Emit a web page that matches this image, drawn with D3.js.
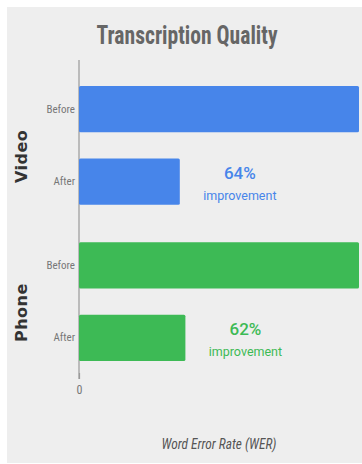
<!DOCTYPE html>
<html>
<head>
<meta charset="utf-8">
<script src="https://cdn.jsdelivr.net/npm/d3@7"></script>
<style>
  html, body { margin: 0; padding: 0; background: #fff; }
  svg { display: block; }
</style>
</head>
<body>
<div id="chart"></div>
<script>
// chart data
const groups = ["Video", "Phone"];
const stages = ["Before", "After"];
const werVideo = [100, 36];
const werPhone = [100, 38];
const improvements = ["64%", "62%"];
const xTicks = [0];

const colors = {Video: "#4785ea", Phone: "#3dba55"};

const width = 362, height = 464;
const margin = {top: 60, left: 79, right: 3, bottom: 85};

const values = {Video: werVideo, Phone: werPhone};

const svg = d3.select("#chart").append("svg")
  .attr("width", width)
  .attr("height", height)
  .attr("viewBox", [0, 0, width, height]);

// gray panel
svg.append("rect")
  .attr("x", 7).attr("y", 7)
  .attr("width", width - 7).attr("height", height - 8)
  .attr("fill", "#eeeeee");

const x = d3.scaleLinear([0, 100], [margin.left, width - margin.right]);
const yGroup = d3.scaleBand(groups, [86, 361]).paddingInner(0.24);
const yStage = d3.scaleBand(stages, [0, yGroup.bandwidth()]).paddingInner(0.36);

const narrow = "'Liberation Sans Narrow', 'Roboto Condensed', 'Arial Narrow', sans-serif";

// title
svg.append("text")
  .attr("x", 187).attr("y", 44)
  .attr("text-anchor", "middle")
  .attr("font-family", narrow)
  .attr("font-weight", "bold")
  .attr("font-size", 26)
  .attr("fill", "#666")
  .attr("textLength", 181)
  .attr("lengthAdjust", "spacingAndGlyphs")
  .text("Transcription Quality");

// vertical axis line
svg.append("line")
  .attr("x1", x(0)).attr("x2", x(0))
  .attr("y1", margin.top).attr("y2", height - margin.bottom)
  .attr("stroke", "#999")
  .attr("stroke-width", 1.2);

const gGroups = svg.append("g")
  .selectAll("g")
  .data(groups)
  .join("g")
  .attr("transform", d => `translate(0,${yGroup(d)})`);

gGroups.selectAll("rect")
  .data(g => stages.map((s, i) => ({group: g, stage: s, value: values[g][i]})))
  .join("rect")
  .attr("x", x(0))
  .attr("y", d => yStage(d.stage))
  .attr("width", d => x(d.value) - x(0))
  .attr("height", yStage.bandwidth())
  .attr("rx", 1.5)
  .attr("fill", d => colors[d.group]);

// Before / After labels
gGroups.append("g")
  .attr("transform", `translate(${x(0)},0)`)
  .call(d3.axisLeft(yStage).tickSize(0).tickPadding(4))
  .call(g => g.select(".domain").remove())
  .call(g => g.selectAll("text")
    .attr("font-family", narrow)
    .attr("font-size", 11)
    .attr("fill", "#777"));

// group names, rotated (sit a bit below the group centre)
gGroups.append("text")
  .attr("transform", d => `translate(27,${yGroup.bandwidth() / 2 + 11}) rotate(-90)`)
  .attr("text-anchor", "middle")
  .attr("font-family", "'DejaVu Sans', sans-serif")
  .attr("font-weight", "bold")
  .attr("font-size", 16)
  .attr("letter-spacing", 0.5)
  .attr("fill", "#333")
  .text(d => d);

// improvement notes
const notes = gGroups.append("g")
  .attr("transform", (d, i) => `translate(${x(values[d][1]) + 60},${yStage("After") + yStage.bandwidth() / 2})`)
  .attr("fill", d => colors[d])
  .attr("text-anchor", "middle")
  .attr("font-family", "Roboto, sans-serif");

notes.append("text")
  .attr("y", -3)
  .attr("font-size", 17)
  .attr("font-weight", 500)
  .text((d, i) => improvements[i]);

notes.append("text")
  .attr("y", 18)
  .attr("font-size", 12.5)
  .text("improvement");

// x axis, only the zero tick
svg.append("g")
  .attr("transform", `translate(0,${height - margin.bottom - 6})`)
  .call(d3.axisBottom(x).tickValues(xTicks).tickSize(6).tickPadding(6))
  .call(g => g.select(".domain").remove())
  .call(g => g.selectAll("line").attr("stroke", "#999").attr("stroke-width", 1.2))
  .call(g => g.selectAll("text")
    .attr("font-family", narrow)
    .attr("font-size", 12)
    .attr("fill", "#777"));

svg.append("text")
  .attr("x", (x(0) + x(100)) / 2)
  .attr("y", 449)
  .attr("text-anchor", "middle")
  .attr("font-family", narrow)
  .attr("font-style", "italic")
  .attr("font-size", 14)
  .attr("fill", "#555")
  .attr("textLength", 115)
  .attr("lengthAdjust", "spacingAndGlyphs")
  .text("Word Error Rate (WER)");
</script>
</body>
</html>
